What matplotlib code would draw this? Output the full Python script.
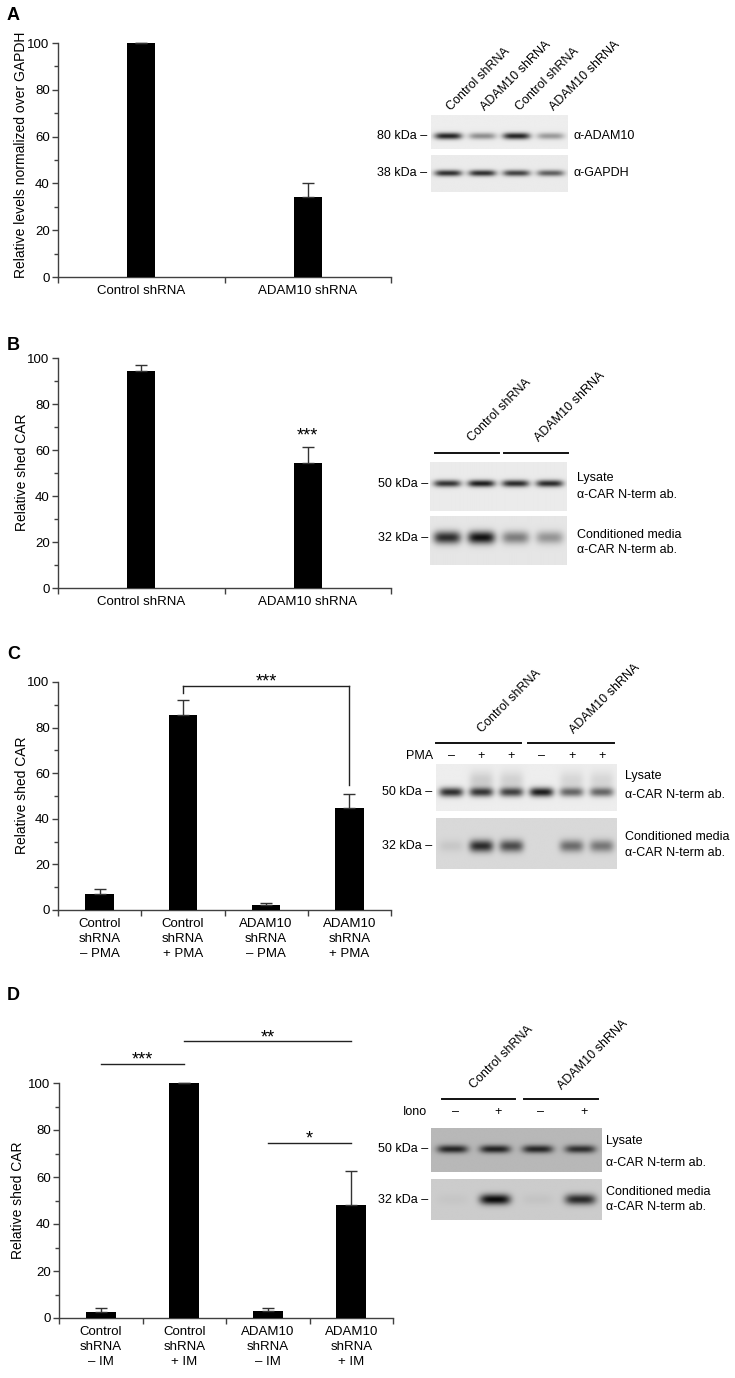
import numpy as np
import matplotlib
matplotlib.use('Agg')
import matplotlib.pyplot as plt

plt.rcParams['font.family'] = ['Liberation Sans', 'DejaVu Sans']
plt.rcParams['font.size'] = 9

W, H = 735, 1378

# ---------------- data ----------------
ab_labels = ['Control shRNA', 'ADAM10 shRNA']
a_vals = [100, 34.2]
a_err = [0, 5.8]
b_vals = [94.2, 54.2]
b_err = [2.6, 7.0]

c_labels = ['Control\nshRNA\n– PMA', 'Control\nshRNA\n+ PMA',
            'ADAM10\nshRNA\n– PMA', 'ADAM10\nshRNA\n+ PMA']
c_vals = [7.1, 85.7, 2.0, 44.9]
c_err = [1.9, 6.3, 1.1, 5.8]

d_labels = ['Control\nshRNA\n– IM', 'Control\nshRNA\n+ IM',
            'ADAM10\nshRNA\n– IM', 'ADAM10\nshRNA\n+ IM']
d_vals = [2.4, 100, 3.0, 48.1]
d_err = [1.9, 0, 1.3, 14.3]

# band darkness per lane (0 = none, 1 = black)
a_adam10 = [0.85, 0.40, 0.85, 0.35]
a_gapdh = [0.80, 0.80, 0.72, 0.60]
b_lys = [0.78, 0.88, 0.82, 0.82]
b_cm = [0.80, 0.92, 0.45, 0.35]
c_lys = [0.80, 0.75, 0.70, 0.88, 0.55, 0.55]
c_lys_smear = [0.0, 0.14, 0.12, 0.0, 0.10, 0.10]
c_cm = [0.08, 0.80, 0.65, 0.0, 0.50, 0.45]
c_pma = ['–', '+', '+', '–', '+', '+']
d_lys = [0.80, 0.82, 0.80, 0.75]
d_cm = [0.03, 0.95, 0.04, 0.80]
d_iono = ['–', '+', '–', '+']

fig = plt.figure(figsize=(W / 100, H / 100), dpi=100)


def rect(x0, y0, x1, y1):
    return [x0 / W, 1 - y1 / H, (x1 - x0) / W, (y1 - y0) / H]


def bar_panel(box, labels, vals, errs, barw):
    ax = fig.add_axes(rect(*box))
    n = len(vals)
    x = np.arange(n)
    ax.bar(x, vals, width=barw, color='black', zorder=3, clip_on=False,
           yerr=[np.zeros(n), errs],
           error_kw=dict(ecolor='#333333', elinewidth=1, capsize=4, capthick=1, clip_on=False))
    ax.set_xlim(-0.5, n - 0.5)
    ax.set_ylim(0, 100)
    for s in ['top', 'right']:
        ax.spines[s].set_visible(False)
    for s in ['left', 'bottom']:
        ax.spines[s].set_color('#404040')
        ax.spines[s].set_linewidth(1)
    ax.set_yticks(np.arange(0, 101, 20))
    ax.set_yticks(np.arange(10, 100, 20), minor=True)
    ax.set_xticks(np.arange(-0.5, n, 1))
    ax.set_xticklabels([])
    ax.set_xticks(x, minor=True)
    ax.set_xticklabels(labels, minor=True, linespacing=1.3)
    ax.tick_params(axis='y', which='major', length=4, width=1, color='#404040', pad=2, labelsize=9.5)
    ax.tick_params(axis='y', which='minor', length=3, width=1, color='#404040')
    ax.tick_params(axis='x', which='major', length=4, width=1, color='#404040')
    ax.tick_params(axis='x', which='minor', length=0, pad=6, labelsize=9.5)
    return ax


def sig_line(ax, x0, x1, y, stars, legs=None):
    ax.plot([x0, x1], [y, y], color='#222222', lw=1, clip_on=False)
    if legs:
        ax.plot([x0, x0], [y, legs[0]], color='#222222', lw=1, clip_on=False)
        ax.plot([x1, x1], [y, legs[1]], color='#222222', lw=1, clip_on=False)
    ax.text((x0 + x1) / 2, y - 2.0, stars, ha='center', va='bottom', fontsize=13, clip_on=False)


def blot(box, dark, bg, yc, sig, bw=0.8, extra=None):
    ax = fig.add_axes(rect(*box))
    n = len(dark)
    ny, nx = 100, 60 * n
    xs = np.linspace(-0.5, n - 0.5, nx)
    ys = np.linspace(0, 1, ny)
    img = np.full((ny, nx), float(bg))
    layers = [(dark, yc, sig)]
    if extra:
        layers.append(extra)
    for vals, yy, ss in layers:
        vy = np.exp(-0.5 * ((ys - yy) / ss) ** 2)
        for i, d in enumerate(vals):
            hx = np.exp(-np.abs((xs - i) / (bw / 2)) ** 4)
            img -= d * bg * np.outer(vy, hx)
    ax.imshow(np.clip(img, 0, 1), cmap='gray', vmin=0, vmax=1, aspect='auto',
              extent=(-0.5, n - 0.5, 1, 0), interpolation='bilinear')
    ax.set_xlim(-0.5, n - 0.5)
    ax.set_ylim(1, 0)
    ax.axis('off')
    return ax


def ftext(x, y, s, **kw):
    fig.text(x / W, 1 - y / H, s, **kw)


def rot_label(x, y, s):
    ftext(x + 9, y, s, rotation=45, rotation_mode='anchor', ha='left', va='bottom')


def fline(x0, x1, y):
    fig.add_artist(plt.Line2D([x0 / W, x1 / W], [1 - y / H, 1 - y / H],
                              color='#111111', lw=1.4))


def lane_x(box, n, i):
    return box[0] + (i + 0.5) * (box[2] - box[0]) / n


# ---------------- A ----------------
ftext(7, 16, 'A', fontsize=13, fontweight='bold', va='center')
axA = bar_panel((58, 43, 391, 277), ab_labels, a_vals, a_err, 0.17)
ftext(21, 155, 'Relative levels normalized over GAPDH', rotation=90, ha='center', va='center', fontsize=10)

boxA1 = (431, 115, 568, 149)
boxA2 = (431, 155, 568, 192)
blot(boxA1, a_adam10, 0.93, 0.62, 0.07)
blot(boxA2, a_gapdh, 0.92, 0.49, 0.06)
for i, lab in enumerate(['Control shRNA', 'ADAM10 shRNA', 'Control shRNA', 'ADAM10 shRNA']):
    rot_label(lane_x(boxA1, 4, i) - 4, 113, lab)
ftext(427, 136, '80 kDa –', ha='right', va='center')
ftext(427, 173, '38 kDa –', ha='right', va='center')
ftext(573, 136, 'α-ADAM10', ha='left', va='center')
ftext(573, 173, 'α-GAPDH', ha='left', va='center')

# ---------------- B ----------------
ftext(7, 345, 'B', fontsize=13, fontweight='bold', va='center')
axB = bar_panel((58, 358, 391, 588), ab_labels, b_vals, b_err, 0.17)
axB.text(1, b_vals[1] + b_err[1] + 1.0, '***', ha='center', va='bottom', fontsize=13)
ftext(22, 472, 'Relative shed CAR', rotation=90, ha='center', va='center', fontsize=10)

boxB1 = (430, 462, 567, 511)
boxB2 = (430, 516, 567, 565)
blot(boxB1, b_lys, 0.92, 0.45, 0.05)
blot(boxB2, b_cm, 0.90, 0.45, 0.09)
fline(435, 499, 453)
fline(504, 568, 453)
rot_label(465, 444, 'Control shRNA')
rot_label(532, 444, 'ADAM10 shRNA')
ftext(428, 484, '50 kDa –', ha='right', va='center')
ftext(428, 538, '32 kDa –', ha='right', va='center')
ftext(577, 478, 'Lysate', ha='left', va='center')
ftext(577, 495, 'α-CAR N-term ab.', ha='left', va='center')
ftext(577, 535, 'Conditioned media', ha='left', va='center')
ftext(577, 550, 'α-CAR N-term ab.', ha='left', va='center')

# ---------------- C ----------------
ftext(7, 655, 'C', fontsize=13, fontweight='bold', va='center')
axC = bar_panel((58, 682, 391, 910), c_labels, c_vals, c_err, 0.34)
sig_line(axC, 1, 3, 98.3, '***', legs=(95.3, 54.8))
ftext(22, 795, 'Relative shed CAR', rotation=90, ha='center', va='center', fontsize=10)

boxC1 = (436, 764, 617, 811)
boxC2 = (436, 818, 617, 869)
blot(boxC1, c_lys, 0.93, 0.60, 0.07, extra=(c_lys_smear, 0.35, 0.14))
blot(boxC2, c_cm, 0.85, 0.55, 0.085)
fline(436, 521, 743)
fline(528, 614, 743)
rot_label(475, 735, 'Control shRNA')
rot_label(567, 736, 'ADAM10 shRNA')
ftext(433, 756, 'PMA', ha='right', va='center')
for i, s in enumerate(c_pma):
    ftext(lane_x(boxC1, 6, i), 756, s, ha='center', va='center')
ftext(432, 792, '50 kDa –', ha='right', va='center')
ftext(432, 846, '32 kDa –', ha='right', va='center')
ftext(625, 776, 'Lysate', ha='left', va='center')
ftext(625, 795, 'α-CAR N-term ab.', ha='left', va='center')
ftext(625, 837, 'Conditioned media', ha='left', va='center')
ftext(625, 853, 'α-CAR N-term ab.', ha='left', va='center')

# ---------------- D ----------------
ftext(7, 995, 'D', fontsize=13, fontweight='bold', va='center')
axD = bar_panel((59, 1083, 393, 1318), d_labels, d_vals, d_err, 0.36)
sig_line(axD, 0, 1, 108, '***')
sig_line(axD, 1, 3, 117.7, '**')
sig_line(axD, 2, 3, 74.6, '*')
ftext(18, 1200, 'Relative shed CAR', rotation=90, ha='center', va='center', fontsize=10)

boxD1 = (431, 1128, 602, 1172)
boxD2 = (431, 1179, 602, 1220)
blot(boxD1, d_lys, 0.72, 0.48, 0.065, bw=0.72)
blot(boxD2, d_cm, 0.80, 0.51, 0.09, bw=0.72)
fline(442, 515, 1099)
fline(524, 598, 1099)
rot_label(467, 1091, 'Control shRNA')
rot_label(555, 1092, 'ADAM10 shRNA')
ftext(427, 1112, 'Iono', ha='right', va='center')
for i, s in enumerate(d_iono):
    ftext(lane_x(boxD1, 4, i) + 3, 1112, s, ha='center', va='center')
ftext(428, 1149, '50 kDa –', ha='right', va='center')
ftext(428, 1200, '32 kDa –', ha='right', va='center')
ftext(606, 1141, 'Lysate', ha='left', va='center')
ftext(606, 1163, 'α-CAR N-term ab.', ha='left', va='center')
ftext(606, 1192, 'Conditioned media', ha='left', va='center')
ftext(606, 1207, 'α-CAR N-term ab.', ha='left', va='center')

fig.savefig('out.png', dpi=100)
